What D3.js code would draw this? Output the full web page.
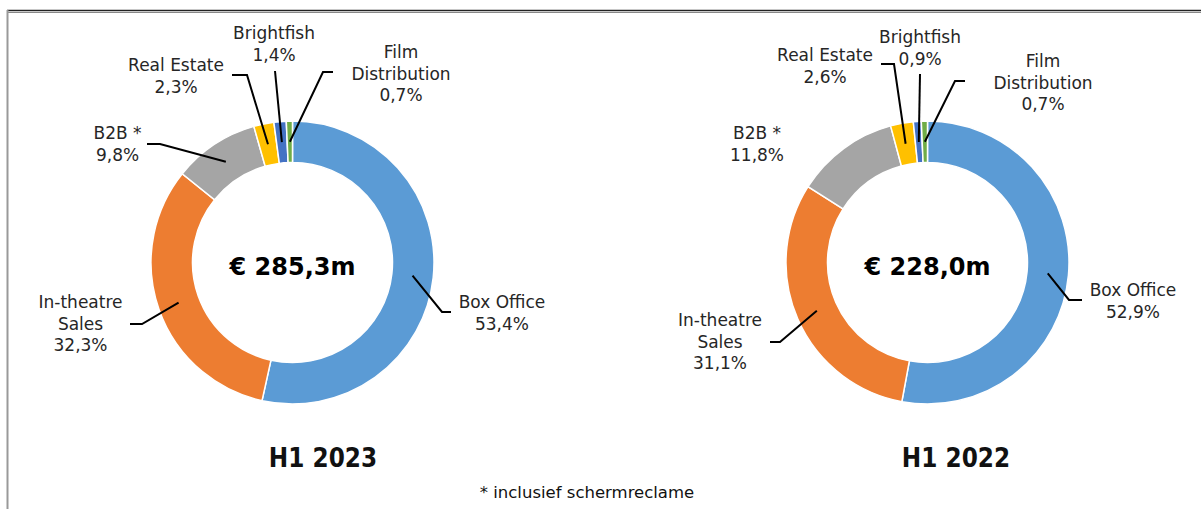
<!DOCTYPE html>
<html>
<head>
<meta charset="utf-8">
<script src="https://cdn.jsdelivr.net/npm/d3@7"></script>
<style>
  body { margin: 0; background: #fff; }
  text { font-family: "DejaVu Sans", sans-serif; }
</style>
</head>
<body>
<script>
w = 1201;
h = 509;

// data
const categories = ['Box Office', 'In-theatre Sales', 'B2B *', 'Real Estate', 'Brightfish', 'Film Distribution'];
const labelLines = [['Box Office'], ['In-theatre', 'Sales'], ['B2B *'], ['Real Estate'], ['Brightfish'], ['Film', 'Distribution']];
const share2023 = [53.4, 32.3, 9.8, 2.3, 1.4, 0.7];
const share2022 = [52.9, 31.1, 11.8, 2.6, 0.9, 0.7];
const periods = ['H1 2023', 'H1 2022'];
const totals = [285.3, 228.0];
const footnote = '* inclusief schermreclame';

const colors = ['#5b9bd5', '#ed7d31', '#a5a5a5', '#ffc000', '#4472c4', '#70ad47'];

// label placement per donut, offsets from the donut centre
const layouts = [
  {
    cx: 292.5, cy: 262.5, titleDx: 30.5,
    labels: [
      { elbow: [149.5, 49.5], end: [158.5, 49.5], text: [209.5, 39.5] },
      { elbow: [-150.5, 61.5], end: [-162.5, 61.5], text: [-212, 39.5] },
      { elbow: [-132.5, -118.5], end: [-145.5, -118.5], text: [-175, -129.5] },
      { elbow: [-45.5, -187.5], end: [-60.5, -187.5], text: [-116.5, -197.5] },
      { elbow: [-17.5, -191.5], end: [-17.5, -191.5], text: [-18.5, -229.5] },
      { elbow: [30.5, -190.5], end: [40.5, -190.5], text: [108.5, -210.5] }
    ]
  },
  {
    cx: 927.5, cy: 262.5, titleDx: 28.5,
    labels: [
      { elbow: [141.5, 37.5], end: [154.5, 37.5], text: [205.5, 27.5] },
      { elbow: [-147.5, 79.5], end: [-157.5, 79.5], text: [-207.5, 57.5] },
      { elbow: null, end: null, text: [-170.5, -129.5] },
      { elbow: [-33.5, -198.5], end: [-46.5, -198.5], text: [-102.5, -207.5] },
      { elbow: [-7.5, -188.5], end: [-7.5, -188.5], text: [-7.5, -225.5] },
      { elbow: [27.5, -181.5], end: [37.5, -181.5], text: [115.5, -201.5] }
    ]
  }
];

const rOuter = 141.5;
const rInner = 100;
const lineGap = 21.5;

const fmt = v => d3.format('.1f')(v).replace('.', ',');

const svg = d3.select('body')
  .append('svg')
  .attr('width', w)
  .attr('height', h);

// frame
svg.append('line')
  .attr('x1', 7).attr('x2', w).attr('y1', 10.5).attr('y2', 10.5)
  .attr('stroke', '#222').attr('stroke-width', 1.5);
svg.append('line')
  .attr('x1', 7).attr('x2', w).attr('y1', 12.5).attr('y2', 12.5)
  .attr('stroke', '#888').attr('stroke-width', 1);
svg.append('line')
  .attr('x1', 7.5).attr('x2', 7.5).attr('y1', 10).attr('y2', h)
  .attr('stroke', '#999').attr('stroke-width', 2);

const pie = d3.pie().sort(null).value(d => d);
const arc = d3.arc().innerRadius(rInner).outerRadius(rOuter);

[share2023, share2022].forEach((shares, k) => {
  const lay = layouts[k];
  const g = svg.append('g')
    .attr('transform', `translate(${lay.cx}, ${lay.cy})`);

  const arcs = pie(shares);

  g.selectAll('path')
    .data(arcs)
    .enter()
    .append('path')
    .attr('d', arc)
    .attr('fill', (d, i) => colors[i])
    .attr('stroke', '#fff')
    .attr('stroke-width', 1.5);

  // leader lines from slice centroids
  g.selectAll('polyline')
    .data(arcs.filter((d, i) => lay.labels[i].elbow))
    .enter()
    .append('polyline')
    .attr('points', d => {
      const L = lay.labels[d.index];
      return [arc.centroid(d), L.elbow, L.end].map(p => p.join(',')).join(' ');
    })
    .attr('fill', 'none')
    .attr('stroke', '#000')
    .attr('stroke-width', 2);

  // labels
  const lbl = g.selectAll('text.lbl')
    .data(arcs)
    .enter()
    .append('text')
    .attr('class', 'lbl')
    .attr('text-anchor', 'middle')
    .attr('font-size', 17)
    .attr('fill', '#262626');

  lbl.each(function (d, i) {
    const L = lay.labels[i];
    const lines = labelLines[i].concat([fmt(d.data) + '%']);
    d3.select(this).selectAll('tspan')
      .data(lines)
      .enter()
      .append('tspan')
      .attr('x', L.text[0])
      .attr('y', (t, j) => L.text[1] + j * lineGap)
      .attr('dy', '0.36em')
      .text(t => t);
  });

  // total in the middle
  g.append('text')
    .attr('text-anchor', 'middle')
    .attr('y', 4)
    .attr('dy', '0.36em')
    .attr('font-size', 24)
    .attr('font-weight', 'bold')
    .attr('fill', '#000')
    .text('€ ' + fmt(totals[k]) + 'm');

  // period title (narrow bold face)
  svg.append('text')
    .attr('transform', `translate(${lay.cx + lay.titleDx}, 457) scale(0.86, 1)`)
    .attr('dy', '0.36em')
    .attr('text-anchor', 'middle')
    .attr('font-size', 27)
    .attr('font-weight', 'bold')
    .attr('fill', '#111')
    .text(periods[k]);
});

svg.append('text')
  .attr('x', 587)
  .attr('y', 492)
  .attr('dy', '0.36em')
  .attr('text-anchor', 'middle')
  .attr('font-size', 16.5)
  .attr('fill', '#111')
  .text(footnote);
</script>
</body>
</html>
